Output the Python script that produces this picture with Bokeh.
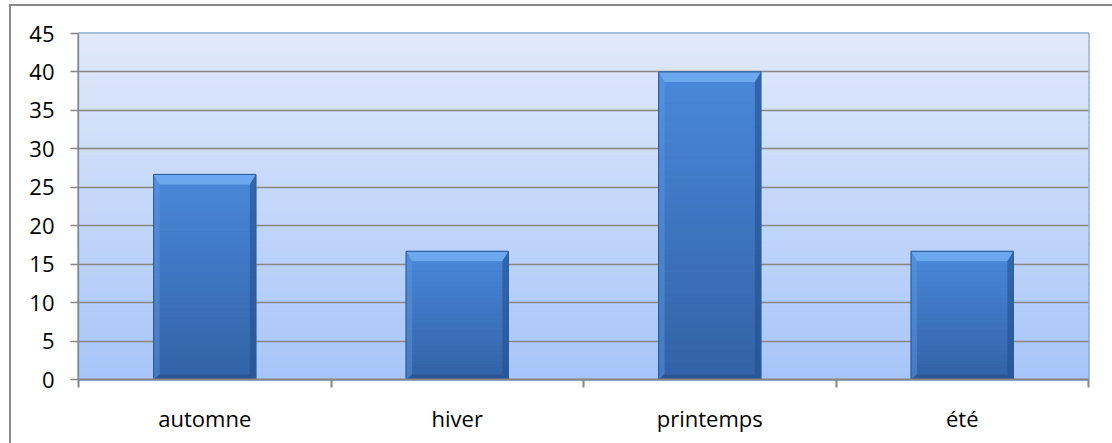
import numpy as np
from bokeh.plotting import figure
from bokeh.models import Range1d, FixedTicker
from bokeh.embed import file_html
from bokeh.resources import INLINE

# Data
categories = ["automne", "hiver", "printemps", "été"]
values = [26.67, 16.67, 40.0, 16.67]
y_ticks = [0, 5, 10, 15, 20, 25, 30, 35, 40, 45]

W, H = 1112, 443
ML, MR, MT, MB = 78, 24, 33, 64
FW, FH = W - ML - MR, H - MT - MB
Y_MAX = 45
N_CAT = len(categories)
px_x = N_CAT / FW      # data units per pixel, horizontally
px_y = Y_MAX / FH      # data units per pixel, vertically

FONT = "Open Sans"


def mix(c1, c2, t):
    a = np.array([int(c1[i:i + 2], 16) for i in (1, 3, 5)], float)
    b = np.array([int(c2[i:i + 2], 16) for i in (1, 3, 5)], float)
    c = (a + (b - a) * t).round().astype(int)
    return "#%02x%02x%02x" % tuple(c)


# The chart frame (left and top edges) comes from two inset shadows on the
# host element, seen through the transparent border area of the canvas.
p = figure(width=W, height=H, output_backend="svg", toolbar_location=None,
           x_range=Range1d(0, N_CAT), y_range=Range1d(0, Y_MAX),
           min_border_left=ML, min_border_right=MR,
           min_border_top=MT, min_border_bottom=MB,
           styles={"background-color": "#ffffff",
                   "box-shadow": "inset 9px 4px 0 0 #ffffff, inset 11px 6px 0 0 #8a8a8a"})
p.background_fill_color = "#ffffff"
p.border_fill_alpha = 0
p.outline_line_color = "#4f81bd"
p.outline_line_width = 2

# Plot-area gradient (light at top, deeper blue at the base)
n_bg = 60
bg_edges = np.linspace(0, Y_MAX, n_bg + 1)
bg_cols = [mix("#a7c5f9", "#e0e9fa", (i + 0.5) / n_bg) for i in range(n_bg)]
p.quad(left=[0] * n_bg, right=[N_CAT] * n_bg, bottom=bg_edges[:-1], top=bg_edges[1:],
       fill_color=bg_cols, line_color=bg_cols, line_width=1, level="image")

# Bars with vertical gradient
bw = 0.405
centers = [i + 0.5 for i in range(N_CAT)]
n_strip = 40
qs_l, qs_r, qs_b, qs_t, qs_c = [], [], [], [], []
for c, v in zip(centers, values):
    edges = np.linspace(0, v, n_strip + 1)
    for k in range(n_strip):
        t = (edges[k] + edges[k + 1]) / 2 / v
        qs_l.append(c - bw / 2)
        qs_r.append(c + bw / 2)
        qs_b.append(edges[k])
        qs_t.append(edges[k + 1])
        qs_c.append(mix("#3262a6", "#4a88da", t))
p.quad(left=qs_l, right=qs_r, bottom=qs_b, top=qs_t, fill_color=qs_c,
       line_color=qs_c, line_width=1)

# Bevelled edges
bt, bs = 10 * px_y, 6 * px_x       # top bevel height, side bevel width
bb = 5 * px_y
top_x, top_y, rt_x, rt_y, lf_x, lf_y, bo_x, bo_y = ([] for _ in range(8))
for c, v in zip(centers, values):
    l, r = c - bw / 2, c + bw / 2
    top_x.append([l, r, r - bs, l + bs]); top_y.append([v, v, v - bt, v - bt])
    rt_x.append([r, r, r - bs, r - bs]); rt_y.append([v, 0, bb, v - bt])
    lf_x.append([l, l, l + bs, l + bs]); lf_y.append([v, 0, bb, v - bt])
    bo_x.append([l, r, r - bs, l + bs]); bo_y.append([0, 0, bb, bb])
p.patches(top_x, top_y, fill_color="#72aef2", fill_alpha=0.85, line_color=None)
p.patches(lf_x, lf_y, fill_color="#5d98e2", fill_alpha=0.45, line_color=None)
p.patches(rt_x, rt_y, fill_color="#23508e", fill_alpha=0.6, line_color=None)
p.patches(bo_x, bo_y, fill_color="#22487e", fill_alpha=0.45, line_color=None)
p.quad(left=[c - bw / 2 for c in centers], right=[c + bw / 2 for c in centers],
       bottom=[0] * N_CAT, top=values, fill_color=None,
       line_color="#2b5a98", line_width=1)

# Grid
p.xgrid.grid_line_color = None
p.ygrid.ticker = FixedTicker(ticks=y_ticks)
p.ygrid.grid_line_color = "#878787"
p.ygrid.grid_line_width = 1.3

# Y axis
ya = p.yaxis[0]
ya.ticker = FixedTicker(ticks=y_ticks)
ya.axis_line_color = "#868686"
ya.axis_line_width = 1.3
ya.major_tick_line_color = "#868686"
ya.major_tick_line_width = 1.3
ya.major_tick_out = 8
ya.major_tick_in = 0
ya.minor_tick_line_color = None
ya.major_label_standoff = 16
ya.major_label_text_font = FONT
ya.major_label_text_font_size = "22px"
ya.major_label_text_color = "#000000"

# X axis: labels at category centres, ticks at category boundaries
xa = p.xaxis[0]
xa.ticker = FixedTicker(ticks=centers, minor_ticks=list(range(N_CAT + 1)))
xa.major_label_overrides = {c: name for c, name in zip(centers, categories)}
xa.major_tick_line_color = None
xa.minor_tick_line_color = "#868686"
xa.minor_tick_line_width = 2
xa.minor_tick_out = 8
xa.minor_tick_in = 0
xa.axis_line_color = "#868686"
xa.axis_line_width = 2
xa.major_label_standoff = 15
xa.major_label_text_font = FONT
xa.major_label_text_font_size = "22px"
xa.major_label_text_color = "#000000"

open("out.html", "w").write(file_html(p, INLINE))
